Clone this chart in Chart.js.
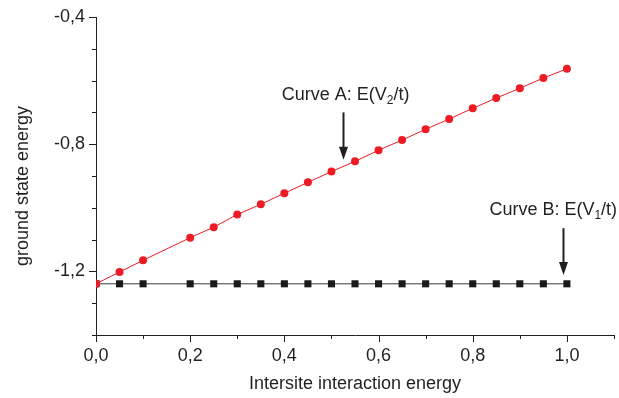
<!DOCTYPE html>
<html>
<head>
<meta charset="utf-8">
<script src="https://cdn.jsdelivr.net/npm/chart.js@4"></script>
<style>
  html, body { margin: 0; padding: 0; background: #fff; }
  #wrap { width: 619px; height: 398px; }
</style>
</head>
<body>
<div id="wrap"><canvas id="energy-chart"></canvas></div>
<script>
const xValues = [0, 0.05, 0.1, 0.2, 0.25, 0.3, 0.35, 0.4, 0.45, 0.5, 0.55, 0.6, 0.65, 0.7, 0.75, 0.8, 0.85, 0.9, 0.95, 1.0];
const curveA = [-1.239, -1.202, -1.165, -1.094, -1.061, -1.021, -0.989, -0.954, -0.920, -0.886, -0.854, -0.819, -0.787, -0.753, -0.721, -0.687, -0.655, -0.624, -0.592, -0.563];
const curveB = [-1.239, -1.239, -1.239, -1.239, -1.239, -1.239, -1.239, -1.239, -1.239, -1.239, -1.239, -1.239, -1.239, -1.239, -1.239, -1.239, -1.239, -1.239, -1.239, -1.239];
const yLabelled = [-0.4, -0.8, -1.2];

const textColor = '#231f20';
const fontFamily = '"Liberation Sans", Arial, sans-serif';

function toPoints(ys) {
    return xValues.map((x, i) => ({ x: x, y: ys[i] }));
}
function comma(v) {
    return v.toFixed(1).replace('.', ',');
}

// outward tick marks, long for labelled ones and short for the rest
const tickMarks = {
    id: 'tickMarks',
    afterDraw(chart) {
        const ctx = chart.ctx;
        const area = chart.chartArea;
        ctx.save();
        ctx.strokeStyle = textColor;
        ctx.lineWidth = 1;
        chart.scales.x.ticks.forEach(t => {
            const px = Math.round(chart.scales.x.getPixelForValue(t.value)) + 0.5;
            const len = Math.round(t.value * 10) % 2 === 0 ? 7 : 4;
            ctx.beginPath();
            ctx.moveTo(px, area.bottom);
            ctx.lineTo(px, area.bottom + len);
            ctx.stroke();
        });
        chart.scales.y.ticks.forEach(t => {
            const py = Math.round(chart.scales.y.getPixelForValue(t.value)) + 0.5;
            const big = yLabelled.some(v => Math.abs(v - t.value) < 1e-6);
            const len = big ? 7 : 4;
            ctx.beginPath();
            ctx.moveTo(area.left, py);
            ctx.lineTo(area.left - len, py);
            ctx.stroke();
        });
        ctx.restore();
    }
};

// "Curve A/B" labels with subscripts and arrows, placed in data coordinates
const curveNotes = {
    id: 'curveNotes',
    afterDraw(chart) {
        const ctx = chart.ctx;
        const xs = chart.scales.x, ys = chart.scales.y;
        const notes = [
            { pre: 'Curve A: E(V', sub: '2', post: '/t)', tx: 0.53, ty: -0.645, ax: 0.524, from: -0.70, to: -0.849 },
            { pre: 'Curve B: E(V', sub: '1', post: '/t)', tx: 0.971, ty: -1.007, ax: 0.991, from: -1.064, to: -1.211 }
        ];
        ctx.save();
        ctx.fillStyle = textColor;
        ctx.strokeStyle = textColor;
        ctx.textBaseline = 'middle';
        ctx.textAlign = 'left';
        notes.forEach(n => {
            const big = '18px ' + fontFamily, small = '12px ' + fontFamily;
            ctx.font = big;
            const w1 = ctx.measureText(n.pre).width, w3 = ctx.measureText(n.post).width;
            ctx.font = small;
            const w2 = ctx.measureText(n.sub).width;
            let x = xs.getPixelForValue(n.tx) - (w1 + w2 + w3) / 2;
            const y = ys.getPixelForValue(n.ty);
            ctx.font = big;
            ctx.fillText(n.pre, x, y);
            x += w1;
            ctx.font = small;
            ctx.fillText(n.sub, x, y + 6);
            x += w2;
            ctx.font = big;
            ctx.fillText(n.post, x, y);

            const ax = Math.round(xs.getPixelForValue(n.ax)) + 0.5;
            const y0 = ys.getPixelForValue(n.from), y1 = ys.getPixelForValue(n.to);
            ctx.lineWidth = 2;
            ctx.beginPath();
            ctx.moveTo(ax, y0);
            ctx.lineTo(ax, y1 - 10);
            ctx.stroke();
            ctx.beginPath();
            ctx.moveTo(ax - 4.5, y1 - 13);
            ctx.lineTo(ax + 4.5, y1 - 13);
            ctx.lineTo(ax, y1);
            ctx.closePath();
            ctx.fill();
        });
        ctx.restore();
    }
};

const ctx = document.getElementById('energy-chart').getContext('2d');
new Chart(ctx, {
    type: 'scatter',
    data: {
        datasets: [
            {
                label: 'Curve A',
                data: toPoints(curveA),
                showLine: true,
                borderColor: '#ed1c24',
                borderWidth: 1,
                backgroundColor: '#ed1c24',
                pointStyle: 'circle',
                pointRadius: 4,
                pointBorderWidth: 0,
                order: 1
            },
            {
                label: 'Curve B',
                data: toPoints(curveB),
                showLine: true,
                borderColor: '#3a3a3a',
                borderWidth: 1,
                backgroundColor: '#1a1a1a',
                pointStyle: 'rect',
                pointRadius: 5,
                pointBorderWidth: 0,
                order: 2
            }
        ]
    },
    options: {
        responsive: true,
        maintainAspectRatio: false,
        animation: false,
        layout: { padding: { top: 17, right: 5, left: 0, bottom: 0 } },
        plugins: {
            legend: { display: false },
            tooltip: { enabled: false }
        },
        scales: {
            x: {
                type: 'linear',
                min: 0,
                max: 1.1,
                afterFit(scale) { scale.height = 63; },
                border: { display: true, color: textColor, width: 1 },
                grid: { display: true, drawOnChartArea: false, drawTicks: true, tickLength: 7, tickColor: 'rgba(0,0,0,0)' },
                ticks: {
                    stepSize: 0.1,
                    padding: 3,
                    maxRotation: 0,
                    autoSkip: false,
                    color: textColor,
                    font: { family: fontFamily, size: 18 },
                    callback: v => Math.round(v * 10) % 2 === 0 && v < 1.05 ? comma(v) : ''
                },
                title: {
                    display: true,
                    text: 'Intersite interaction energy',
                    color: textColor,
                    font: { family: fontFamily, size: 18 },
                    padding: { top: 0, bottom: 3 }
                }
            },
            y: {
                type: 'linear',
                min: -1.4,
                max: -0.4,
                afterFit(scale) { scale.width = 96; },
                border: { display: true, color: textColor, width: 1 },
                grid: { display: true, drawOnChartArea: false, drawTicks: true, tickLength: 7, tickColor: 'rgba(0,0,0,0)' },
                ticks: {
                    stepSize: 0.1,
                    padding: 4,
                    autoSkip: false,
                    color: textColor,
                    font: { family: fontFamily, size: 18 },
                    callback: v => yLabelled.some(l => Math.abs(l - v) < 1e-6) ? comma(v) : ''
                },
                title: {
                    display: true,
                    text: 'ground state energy    ',
                    color: textColor,
                    font: { family: fontFamily, size: 18 },
                    padding: { top: 12, bottom: 0 }
                }
            }
        }
    },
    plugins: [tickMarks, curveNotes]
});
</script>
</body>
</html>
